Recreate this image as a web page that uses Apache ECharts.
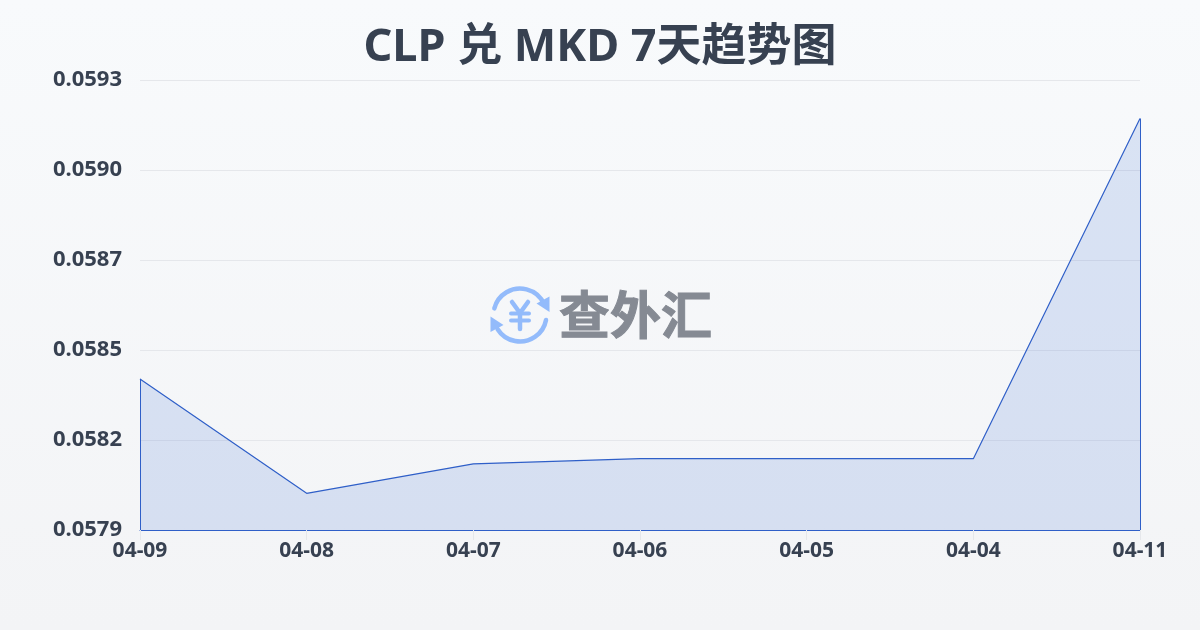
<!DOCTYPE html>
<html><head><meta charset="utf-8">
<style>html,body{margin:0;padding:0;width:1200px;height:630px;overflow:hidden;background:#f5f6f8}#c{width:1200px;height:630px}</style>
<script src="https://cdn.jsdelivr.net/npm/echarts@6/dist/echarts.min.js"></script>
</head><body><div id="c"></div>
<script>
const titleText = 'CLP 兑 MKD 7天趋势图';
const categories = ['04-09','04-08','04-07','04-06','04-05','04-04','04-11'];
const rates = [0.05837,0.058014,0.058106,0.058122,0.058122,0.058122,0.05918];
const yTicks = [0.0579,0.05818,0.05846,0.05874,0.05902,0.0593];
const yMin = 0.0579, yMax = 0.0593;
const font = '"Noto Sans","Noto Sans CJK SC",sans-serif';
const textColor = '#374151';
const lineColor = '#2f5fc8';
const chart = echarts.init(document.getElementById('c'), null, {renderer:'canvas'});
const logoBlue = '#93bbfb';
chart.setOption({
  animation:false,
  backgroundColor:{type:'linear',x:0,y:0,x2:0,y2:1,colorStops:[{offset:0,color:'#f8fafc'},{offset:1,color:'#f3f4f6'}]},
  title:{text:titleText,left:'center',top:21,textStyle:{fontFamily:font,fontSize:45,fontWeight:'bold',color:textColor}},
  grid:{left:140,right:60,top:80,bottom:100,containLabel:false},
  xAxis:{type:'category',data:categories,boundaryGap:false,
    axisLine:{show:true,lineStyle:{color:lineColor,width:1}},
    axisTick:{show:true,length:10,lineStyle:{color:'#e5e7eb'}},
    axisLabel:{color:textColor,fontFamily:font,fontSize:21,fontWeight:'bold',margin:11,interval:0},
    splitLine:{show:false}},
  yAxis:{type:'value',min:yMin,max:yMax,
    axisLine:{show:false},axisTick:{show:false,customValues:yTicks},
    axisLabel:{customValues:yTicks,color:textColor,fontFamily:font,fontSize:22,fontWeight:'bold',margin:18,verticalAlign:'middle',lineHeight:26,padding:[0,0,4,0],
      formatter:v=>v.toFixed(4)},
    splitLine:{show:true,lineStyle:{color:'#e5e7eb',width:1}}},
  series:[{type:'line',data:rates,showSymbol:false,symbol:'none',smooth:false,
    lineStyle:{color:lineColor,width:1.2},areaStyle:{color:'rgba(50,100,205,0.15)',opacity:1},
    markLine:{silent:true,symbol:'none',label:{show:false},lineStyle:{color:lineColor,width:1,type:'solid'},
      data:[
        [{xAxis:categories[0],yAxis:yMin},{xAxis:categories[0],yAxis:rates[0]}],
        [{xAxis:categories[6],yAxis:yMin},{xAxis:categories[6],yAxis:rates[6]}]
      ]}}],
  graphic:[
    {type:'arc',shape:{cx:520,cy:315,r:26.5,startAngle:Math.PI*1.08,endAngle:Math.PI*1.87,clockwise:true},style:{stroke:logoBlue,lineWidth:4.5,fill:null,lineCap:'round'}},
    {type:'arc',shape:{cx:520,cy:315,r:26.5,startAngle:Math.PI*0.06,endAngle:Math.PI*0.82,clockwise:true},style:{stroke:logoBlue,lineWidth:4.5,fill:null,lineCap:'round'}},
    {type:'polygon',shape:{points:[[549.5,296.5],[549.5,312],[536.5,303.5]]},style:{fill:logoBlue}},
    {type:'polygon',shape:{points:[[490.5,316.5],[490.5,332],[503.5,325]]},style:{fill:logoBlue}},
    {type:'polyline',shape:{points:[[512,302],[520,313],[528,302]]},style:{stroke:logoBlue,lineWidth:4.5,fill:null,lineCap:'round',lineJoin:'round'}},
    {type:'line',shape:{x1:520,y1:313,x2:520,y2:329},style:{stroke:logoBlue,lineWidth:4.5,lineCap:'round'}},
    {type:'line',shape:{x1:511,y1:313.5,x2:529,y2:313.5},style:{stroke:logoBlue,lineWidth:4,lineCap:'round'}},
    {type:'line',shape:{x1:511,y1:320.5,x2:529,y2:320.5},style:{stroke:logoBlue,lineWidth:4,lineCap:'round'}},
    {type:'text',x:635.5,y:315,style:{text:'查外汇',fill:'#858a93',stroke:'#858a93',lineWidth:1,font:'bold 51px "Noto Sans CJK SC"',textAlign:'center',textVerticalAlign:'middle'}}
  ]
});
</script></body></html>
